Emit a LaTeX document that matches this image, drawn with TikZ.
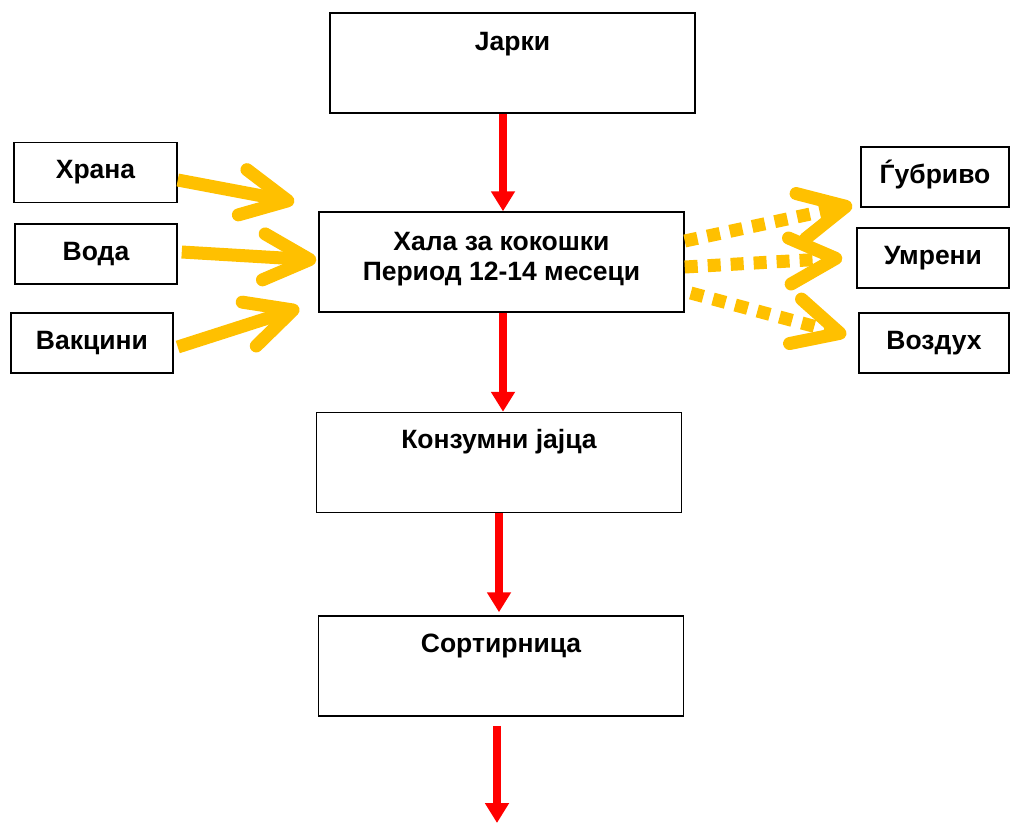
\documentclass[tikz,border=0pt]{standalone}
\usepackage{fontspec}
\setmainfont{Liberation Sans}
\usetikzlibrary{arrows.meta}
\definecolor{flowred}{RGB}{255,0,0}
\definecolor{flowgold}{RGB}{255,192,0}

\begin{document}
\begin{tikzpicture}[x=1pt,y=-1pt,
  box/.style={draw,line width=1.5pt,inner sep=0pt,align=center,
    font=\bfseries\fontsize{26.5}{30}\selectfont,text height=36pt},
  bigbox/.style={box,minimum width=365pt,minimum height=100pt,text depth=64pt},
  smallbox/.style={box,minimum height=60pt,text depth=24pt},
  flow/.style={flowred,line width=8pt,-{Triangle[width=23pt,length=20pt]}},
  feed/.style={flowgold,line width=13pt,-{Straight Barb[round,length=46pt,width=46pt]}},
  waste/.style={feed,dash pattern=on 13pt off 10pt}]
  \useasboundingbox (0,0) rectangle (1011,823);

  \node[bigbox,text height=37pt,text depth=63pt] (Jarki) at (512.5,63) {Јарки};
  \node[bigbox,text height=68pt,text depth=32pt] (Hala) at (501.5,262)
    {Хала за кокошки\\Период 12-14 месеци};
  \node[bigbox] (Jajca) at (499,462.5) {Конзумни јајца};
  \node[bigbox] (Sort)  at (501,666)   {Сортирница};

  \node[smallbox,minimum width=163pt] (Hrana)   at (95.5,172.5) {Храна};
  \node[smallbox,minimum width=162pt] (Voda)    at (96,254)     {Вода};
  \node[smallbox,minimum width=162pt] (Vakcini) at (92,343)     {Вакцини};

  \node[smallbox,minimum width=148pt] (Gjubrivo) at (935,177) {Ѓубриво};
  \node[smallbox,minimum width=152pt] (Umreni)   at (933,258) {Умрени};
  \node[smallbox,minimum width=150pt] (Vozduh)   at (934,343) {Воздух};

  \coordinate (Izlez) at (497,823);

  % main line
  \draw[flow] ([xshift=-9.5pt]Jarki.south) -- ([xshift=1.5pt]Hala.north);
  \draw[flow] ([xshift=1.5pt]Hala.south) -- ([xshift=4pt]Jajca.north);
  \draw[flow] (Jajca.south) -- ([xshift=-2pt,yshift=3pt]Sort.north);
  \draw[flow] ([xshift=-4pt,yshift=-9pt]Sort.south) -- (Izlez);

  % inputs
  \draw[feed] ([yshift=-7.5pt]Hrana.east) -- ([xshift=-24pt,yshift=60pt]Hala.west);
  \draw[feed] ([xshift=4pt,yshift=2pt]Voda.east) -- ([xshift=-2pt,yshift=2pt]Hala.west);
  \draw[feed] ([xshift=4pt,yshift=-4pt]Vakcini.east) -- ([xshift=-19pt,yshift=-46pt]Hala.west);

  % outputs
  \draw[waste] ([yshift=21pt]Hala.east) -- ([xshift=-8pt,yshift=-28pt]Gjubrivo.west);
  \draw[waste] ([yshift=-5pt]Hala.east) -- ([xshift=-14pt]Umreni.west);
  \draw[waste] ([xshift=6pt,yshift=-31pt]Hala.east) -- ([xshift=-12pt,yshift=8pt]Vozduh.west);
\end{tikzpicture}
\end{document}
